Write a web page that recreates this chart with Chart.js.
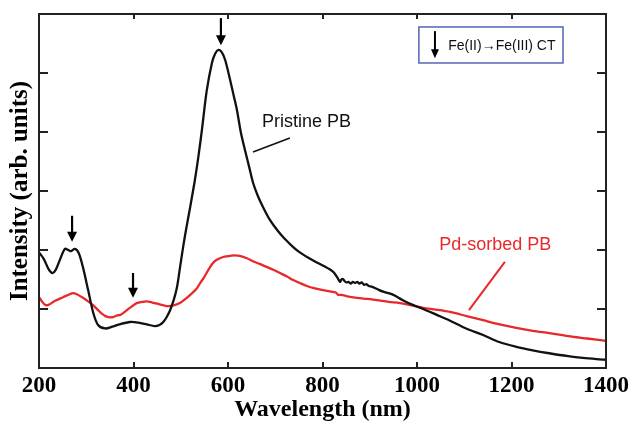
<!DOCTYPE html>
<html>
<head>
<meta charset="utf-8">
<script src="https://cdn.jsdelivr.net/npm/chart.js@4.4.1/dist/chart.umd.min.js"></script>
<style>
html,body{margin:0;padding:0;background:#fff;}
#c{display:block;}
</style>
</head>
<body>
<canvas id="c" width="632" height="422"></canvas>
<script>
// ---- data ----
const pristineX = [200,210,220,228,235,245,255,262,268,276,284,293,304,315,325,340,355,370,393,410,428,445,455,463,470,477,485,492,498,505,512,520,530,538,545,555,566,573,580,587,594,604,612,619,627,636,645,653,663,674,688,704,720,738,752,770,788,805,816,824,831,837,840,843,847,851,855,860,864,869,874,878,883,888,893,898,904,910,920,930,950,970,991,1013,1042,1068,1104,1140,1174,1210,1245,1280,1320,1351,1380,1400];
const pristineY = [1.96,1.85,1.68,1.61,1.66,1.85,2.02,2.00,1.98,2.02,1.95,1.71,1.32,0.93,0.73,0.67,0.70,0.74,0.78,0.77,0.74,0.71,0.73,0.78,0.86,0.97,1.15,1.37,1.68,2.05,2.38,2.73,3.19,3.62,4.05,4.70,5.17,5.33,5.39,5.35,5.22,4.90,4.62,4.37,4.00,3.69,3.40,3.14,2.92,2.73,2.52,2.34,2.19,2.05,1.96,1.87,1.79,1.72,1.67,1.62,1.54,1.46,1.50,1.51,1.47,1.45,1.46,1.43,1.46,1.44,1.46,1.43,1.45,1.41,1.42,1.39,1.38,1.36,1.32,1.29,1.24,1.15,1.07,1.00,0.90,0.81,0.67,0.56,0.44,0.36,0.30,0.25,0.20,0.17,0.15,0.14];

const pdX = [200,207,213,220,234,251,265,272,280,293,304,315,329,343,355,365,372,378,386,396,407,418,428,440,455,470,485,498,510,520,533,541,548,562,572,583,595,604,614,625,640,653,668,683,697,710,725,738,752,767,784,801,815,828,833,840,850,873,895,915,940,964,990,1013,1040,1070,1105,1140,1175,1210,1245,1280,1320,1360,1400];
const pdY = [1.20,1.12,1.07,1.07,1.14,1.20,1.25,1.27,1.25,1.19,1.13,1.06,0.95,0.87,0.86,0.89,0.90,0.93,0.98,1.04,1.10,1.12,1.13,1.11,1.08,1.05,1.06,1.10,1.17,1.24,1.34,1.44,1.52,1.71,1.81,1.86,1.89,1.90,1.91,1.90,1.86,1.81,1.76,1.71,1.66,1.61,1.55,1.49,1.44,1.39,1.35,1.32,1.30,1.28,1.24,1.24,1.22,1.19,1.17,1.15,1.12,1.10,1.06,1.02,0.99,0.95,0.88,0.81,0.74,0.68,0.63,0.59,0.54,0.50,0.46];

const xTickValues = [200,400,600,800,1000,1200,1400];
const yTickValues = [1,2,3,4,5];

// arrows marking Fe(II)->Fe(III) CT bands (x in nm, y from/to in intensity units)
const arrowX = [270, 399, 585];
const arrowTop = [2.58, 1.61, 5.93];
const arrowTip = [2.14, 1.19, 5.47];

const seriesLabels = ['Pristine PB', 'Pd-sorbed PB'];
const legendText = 'Fe(II)\u2192Fe(III) CT';

const toPts = (xs, ys) => xs.map((x, i) => ({x: x, y: ys[i]}));

const SERIF = '"Liberation Serif", "Times New Roman", serif';
const SANS = '"Liberation Sans", Arial, Helvetica, sans-serif';
const RED = '#e8282b';
const BLACK = '#111111';

function drawArrow(ctx, x, yTop, yTip, headW, headH, lw) {
  ctx.save();
  ctx.strokeStyle = '#000';
  ctx.fillStyle = '#000';
  ctx.lineWidth = lw;
  ctx.beginPath();
  ctx.moveTo(x, yTop);
  ctx.lineTo(x, yTip - headH + 1);
  ctx.stroke();
  ctx.beginPath();
  ctx.moveTo(x - headW / 2, yTip - headH);
  ctx.lineTo(x + headW / 2, yTip - headH);
  ctx.lineTo(x, yTip);
  ctx.closePath();
  ctx.fill();
  ctx.restore();
}

const decor = {
  id: 'decor',
  afterDatasetsDraw(chart) {
    const {ctx, chartArea: a, scales: {x, y}} = chart;
    ctx.save();
    // frame
    ctx.strokeStyle = '#222';
    ctx.lineWidth = 2;
    ctx.strokeRect(a.left, a.top, a.right - a.left, a.bottom - a.top);
    // inward ticks
    ctx.lineWidth = 2;
    ctx.beginPath();
    xTickValues.forEach(v => {
      const px = Math.round(x.getPixelForValue(v));
      ctx.moveTo(px, a.bottom); ctx.lineTo(px, a.bottom - 6);
      ctx.moveTo(px, a.top); ctx.lineTo(px, a.top + 5);
    });
    yTickValues.forEach(v => {
      const py = Math.round(y.getPixelForValue(v));
      ctx.moveTo(a.left, py); ctx.lineTo(a.left + 9, py);
      ctx.moveTo(a.right, py); ctx.lineTo(a.right - 9, py);
    });
    ctx.stroke();

    // band arrows
    arrowX.forEach((v, i) => {
      drawArrow(ctx, x.getPixelForValue(v), y.getPixelForValue(arrowTop[i]), y.getPixelForValue(arrowTip[i]), 10, 10, 2.2);
    });

    // series labels with leader lines
    ctx.font = '18px ' + SANS;
    ctx.textBaseline = 'middle';
    ctx.textAlign = 'left';
    ctx.fillStyle = '#111';
    ctx.fillText(seriesLabels[0], x.getPixelForValue(672), y.getPixelForValue(4.17));
    ctx.strokeStyle = '#111';
    ctx.lineWidth = 1.6;
    ctx.beginPath();
    ctx.moveTo(x.getPixelForValue(731), y.getPixelForValue(3.90));
    ctx.lineTo(x.getPixelForValue(653), y.getPixelForValue(3.66));
    ctx.stroke();

    ctx.fillStyle = RED;
    ctx.fillText(seriesLabels[1], x.getPixelForValue(1047), y.getPixelForValue(2.08));
    ctx.strokeStyle = RED;
    ctx.lineWidth = 2;
    ctx.beginPath();
    ctx.moveTo(x.getPixelForValue(1186), y.getPixelForValue(1.80));
    ctx.lineTo(x.getPixelForValue(1110), y.getPixelForValue(0.98));
    ctx.stroke();

    // legend box
    const bx0 = x.getPixelForValue(1004), bx1 = x.getPixelForValue(1309);
    const by0 = y.getPixelForValue(5.78), by1 = y.getPixelForValue(5.17);
    ctx.fillStyle = '#fff';
    ctx.fillRect(bx0, by0, bx1 - bx0, by1 - by0);
    ctx.strokeStyle = '#5464b4';
    ctx.lineWidth = 1.5;
    ctx.strokeRect(bx0, by0, bx1 - bx0, by1 - by0);
    drawArrow(ctx, x.getPixelForValue(1038), y.getPixelForValue(5.71), y.getPixelForValue(5.25), 8, 9, 2);
    ctx.fillStyle = '#111';
    ctx.font = '14px ' + SANS;
    ctx.fillText(legendText, x.getPixelForValue(1066), y.getPixelForValue(5.46));
    ctx.restore();
  }
};

new Chart(document.getElementById('c'), {
  type: 'scatter',
  data: {
    datasets: [
      {label: seriesLabels[0], data: toPts(pristineX, pristineY), showLine: true, borderColor: BLACK, borderWidth: 2.3, pointRadius: 0, tension: 0.3, fill: false},
      {label: seriesLabels[1], data: toPts(pdX, pdY), showLine: true, borderColor: RED, borderWidth: 2.3, pointRadius: 0, tension: 0.3, fill: false}
    ]
  },
  options: {
    responsive: false,
    animation: false,
    layout: {padding: {top: 14, right: 26, left: 0, bottom: 0}},
    plugins: {legend: {display: false}, tooltip: {enabled: false}},
    scales: {
      x: {
        type: 'linear', min: 200, max: 1400,
        afterBuildTicks: (s) => { s.ticks = xTickValues.map(v => ({value: v})); },
        ticks: {color: '#000', padding: 4, maxRotation: 0, autoSkip: false, callback: (v) => String(v), font: {family: SERIF, size: 23, weight: 'bold'}},
        grid: {display: false, drawTicks: false},
        border: {display: false},
        title: {display: true, text: 'Wavelength (nm)', color: '#000', padding: {top: 0, bottom: 0}, font: {family: SERIF, size: 24, weight: 'bold', lineHeight: 1}},
        afterFit: (s) => { s.height = 54; s.paddingLeft = 0; s.paddingRight = 0; }
      },
      y: {
        type: 'linear', min: 0, max: 6,
        ticks: {display: false},
        grid: {display: false, drawTicks: false},
        border: {display: false},
        title: {display: true, text: 'Intensity (arb. units)', color: '#000', padding: {top: 8, bottom: 0}, font: {family: SERIF, size: 25, weight: 'bold', lineHeight: 1}},
        afterFit: (s) => { s.width = 39; }
      }
    }
  },
  plugins: [decor]
});
</script>
</body>
</html>
